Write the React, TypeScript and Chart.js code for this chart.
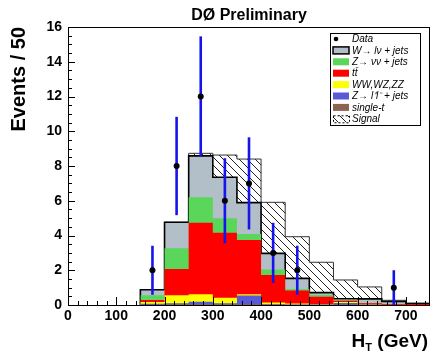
import React, { useEffect, useRef } from 'react';
import { Chart, registerables } from 'chart.js';

Chart.register(...registerables);

// ---------- data ----------
// lower edges of the H_T bins (GeV); bins are 50 GeV wide, last edge 750
const binEdges = [150, 200, 250, 300, 350, 400, 450, 500, 550, 600, 650, 700];
const lastEdge = 750;

// background components (events per bin), stacked bottom -> top
const singleT = [0.02, 0.04, 0.05, 0.04, 0.05, 0.03, 0.02, 0.01, 0.01, 0.01, 0.0, 0.0];
const zll = [0.05, 0.06, 0.14, 0.06, 0.5, 0.02, 0.01, 0.02, 0.11, 0.01, 0.0, 0.0];
const diboson = [0.1, 0.46, 0.43, 0.32, 0.07, 0.1, 0.05, 0.02, 0.05, 0.01, 0.0, 0.0];
const ttbar = [0.12, 1.51, 4.12, 3.74, 3.12, 1.58, 0.75, 0.43, 0.08, 0.07, 0.05, 0.06];
const znunu = [0.27, 1.19, 1.46, 0.83, 0.35, 0.32, 0.09, 0.1, 0.05, 0.02, 0.01, 0.0];
const wjets = [0.32, 1.5, 2.38, 2.36, 1.8, 0.92, 0.61, 0.13, 0.06, 0.23, 0.14, 0.02];
const signal = [0.0, 0.0, 0.15, 1.28, 2.51, 2.94, 2.4, 1.75, 1.08, 0.69, 0.07, 0.02];

// observed data (bin centres), with their errors
const dataX = [175, 225, 275, 325, 375, 425, 475, 675];
const dataY = [2, 8, 12, 6, 7, 3, 2, 1];
const dataErr = [1.41, 2.83, 3.46, 2.45, 2.65, 1.73, 1.41, 1.0];

const xMin = 0;
const xMax = 750;
const yMin = 0;
const yMax = 16;
const xStep = 100;
const yStep = 2;
const xMinorStep = 20;
const yMinorStep = 0.5;

const titleText = 'DØ Preliminary';
const yTitle = 'Events / 50';
const xTitleMain = 'H';
const xTitleSub = 'T';
const xTitleRest = ' (GeV)';

const legendLabels = [
  'Data',
  'W→ lν + jets',
  'Z→ νν + jets',
  'tt̄',
  'WW,WZ,ZZ',
  'Z→ l⁺l⁻ + jets',
  'single-t',
  'Signal',
];

// ---------- styles ----------
const FONT = '"Liberation Sans", Arial, Helvetica, sans-serif';
const colW = 'rgb(178,190,200)';
const colZnn = 'rgb(90,214,90)';
const colTT = 'rgb(255,0,0)';
const colVV = 'rgb(255,255,0)';
const colZll = 'rgb(90,90,216)';
const colST = 'rgb(140,100,80)';
const colErr = 'rgb(20,20,235)';

function makeHatch(): CanvasPattern | string {
  const c = document.createElement('canvas');
  c.width = 8;
  c.height = 8;
  const g = c.getContext('2d');
  if (!g) return '#fff';
  g.fillStyle = '#fff';
  g.fillRect(0, 0, 8, 8);
  g.strokeStyle = '#222';
  g.lineWidth = 1;
  g.beginPath();
  for (const k of [-8, 0, 8]) {
    g.moveTo(k, 0);
    g.lineTo(k + 8, 8);
  }
  g.stroke();
  return g.createPattern(c, 'repeat') || '#fff';
}

function stepPoints(vals: number[]) {
  const pts: { x: number; y: number }[] = [{ x: binEdges[0], y: 0 }];
  vals.forEach((v, i) => pts.push({ x: binEdges[i], y: v }));
  pts.push({ x: lastEdge, y: vals[vals.length - 1] });
  pts.push({ x: lastEdge, y: 0 });
  return pts;
}

export default function App() {
  const ref = useRef<HTMLCanvasElement | null>(null);

  useEffect(() => {
    const canvas = ref.current;
    if (!canvas) return;
    const hatch = makeHatch();

    const components = [singleT, zll, diboson, ttbar, znunu, wjets, signal];
    const cumulative = components.map((_, k) =>
      binEdges.map((__, i) => components.slice(0, k + 1).reduce((s, c) => s + c[i], 0))
    );
    const fills = [colST, colZll, colVV, colTT, colZnn, colW, hatch];
    const borders = ['rgba(0,0,0,0)', 'rgba(0,0,0,0)', 'rgba(0,0,0,0)', 'rgba(0,0,0,0)', 'rgba(0,0,0,0)', '#000', '#333'];
    const widths = [1, 1, 1, 1, 1, 1.6, 1];

    const histDatasets = cumulative.map((vals, k) => ({
      label: legendLabels[k + 1] || 'h' + k,
      data: stepPoints(vals),
      stepped: true as const,
      fill: 'origin' as const,
      backgroundColor: fills[k] as any,
      borderColor: borders[k],
      borderWidth: widths[k],
      pointRadius: 0,
      pointHoverRadius: 0,
      tension: 0,
    }));

    const decor = {
      id: 'decor',
      beforeDatasetDraw(chart: any, args: any) {
        if (args.index !== 0) return;
        const { ctx, scales } = chart;
        const xs = scales.x;
        const ys = scales.y;
        ctx.save();
        ctx.strokeStyle = colErr;
        ctx.lineWidth = 2.6;
        ctx.lineCap = 'butt';
        dataX.forEach((xv, i) => {
          const px = xs.getPixelForValue(xv);
          const lo = Math.max(yMin, dataY[i] - dataErr[i]);
          const hi = dataY[i] + dataErr[i];
          ctx.beginPath();
          ctx.moveTo(px, ys.getPixelForValue(lo));
          ctx.lineTo(px, ys.getPixelForValue(hi));
          ctx.stroke();
        });
        ctx.restore();
      },
      afterDatasetsDraw(chart: any) {
        const { ctx, chartArea: a, scales } = chart;
        const xs = scales.x;
        const ys = scales.y;
        ctx.save();
        ctx.strokeStyle = '#000';
        ctx.lineWidth = 1;
        ctx.beginPath();
        for (let v = xMin; v <= xMax + 1e-6; v += xMinorStep) {
          const px = Math.round(xs.getPixelForValue(v)) + 0.5;
          const len = Math.abs(v % xStep) < 1e-6 ? 8 : 4;
          ctx.moveTo(px, a.bottom);
          ctx.lineTo(px, a.bottom - len);
        }
        for (let v = yMin; v <= yMax + 1e-6; v += yMinorStep) {
          const py = Math.round(ys.getPixelForValue(v)) + 0.5;
          const len = Math.abs(v % yStep) < 1e-6 ? 7 : 4;
          ctx.moveTo(a.left, py);
          ctx.lineTo(a.left + len, py);
        }
        ctx.stroke();
        ctx.lineWidth = 1;
        ctx.strokeRect(Math.round(a.left) + 0.5, Math.round(a.top) + 0.5, Math.round(a.right - a.left) - 1, Math.round(a.bottom - a.top));
        ctx.restore();
      },
      afterDraw(chart: any) {
        const { ctx, chartArea: a } = chart;
        ctx.save();
        // legend box
        const lx = a.right - 100;
        const ly = a.top + 6;
        const lw = 90;
        const lh = 92;
        ctx.fillStyle = '#fff';
        ctx.fillRect(lx, ly, lw, lh);
        ctx.strokeStyle = '#000';
        ctx.lineWidth = 1;
        ctx.strokeRect(lx + 0.5, ly + 0.5, lw, lh);
        const rowH = 11.4;
        const mx = lx + 3;
        const mw = 16;
        const mh = 7;
        const legFill = [null, colW, colZnn, colTT, colVV, colZll, colST, hatch];
        legendLabels.forEach((lab, i) => {
          const cy = ly + 6 + i * rowH;
          if (i === 0) {
            ctx.fillStyle = '#000';
            ctx.beginPath();
            ctx.arc(mx + 3, cy, 2.3, 0, Math.PI * 2);
            ctx.fill();
          } else {
            ctx.fillStyle = legFill[i] as any;
            ctx.fillRect(mx, cy - mh / 2, mw, mh);
            if (i === 1) {
              ctx.strokeStyle = '#000';
              ctx.lineWidth = 1.5;
              ctx.strokeRect(mx, cy - mh / 2, mw, mh);
            }
            if (i === 7) {
              ctx.strokeStyle = '#000';
              ctx.lineWidth = 1;
              ctx.setLineDash([2, 2]);
              ctx.strokeRect(mx + 0.5, cy - mh / 2 + 0.5, mw, mh);
              ctx.setLineDash([]);
            }
          }
          ctx.fillStyle = '#000';
          ctx.font = 'italic 10px ' + FONT;
          ctx.textAlign = 'left';
          ctx.textBaseline = 'middle';
          ctx.fillText(lab, mx + mw + 3, cy + 0.5);
        });
        // x-axis title with subscript
        ctx.fillStyle = '#000';
        ctx.textBaseline = 'alphabetic';
        ctx.textAlign = 'left';
        ctx.font = 'bold 19px ' + FONT;
        const wH = ctx.measureText(xTitleMain).width;
        const wR = ctx.measureText(xTitleRest).width;
        ctx.font = 'bold 11px ' + FONT;
        const wT = ctx.measureText(xTitleSub).width;
        const right = a.right - 2;
        const base = a.bottom + 42;
        const x0 = right - (wH + wT + wR);
        ctx.font = 'bold 19px ' + FONT;
        ctx.fillText(xTitleMain, x0, base);
        ctx.font = 'bold 11px ' + FONT;
        ctx.fillText(xTitleSub, x0 + wH, base + 4);
        ctx.font = 'bold 19px ' + FONT;
        ctx.fillText(xTitleRest, x0 + wH + wT, base);
        ctx.restore();
      },
    };

    const chart = new Chart(canvas, {
      type: 'line',
      data: {
        datasets: [
          {
            label: 'Data',
            data: dataX.map((x, i) => ({ x, y: dataY[i] })),
            showLine: false,
            pointRadius: 3,
            pointHoverRadius: 3,
            pointBackgroundColor: '#000',
            pointBorderColor: '#000',
            pointBorderWidth: 0,
            borderColor: '#000',
            backgroundColor: '#000',
          } as any,
          ...histDatasets,
        ],
      },
      options: {
        responsive: false,
        animation: false,
        events: [],
        layout: { padding: { left: 0, right: 1, top: 0, bottom: 0 } },
        plugins: {
          legend: { display: false },
          tooltip: { enabled: false },
          title: {
            display: true,
            text: titleText,
            fullSize: false,
            color: '#000',
            font: { family: FONT, size: 16, weight: 'bold', lineHeight: 1 },
            padding: { top: 8, bottom: 3 },
          },
        },
        scales: {
          x: {
            type: 'linear',
            min: xMin,
            max: xMax,
            grid: { display: false, drawTicks: false, tickLength: 0 },
            border: { display: false },
            ticks: {
              stepSize: xStep,
              includeBounds: false,
              autoSkip: false,
              color: '#000',
              padding: 3,
              maxRotation: 0,
              font: { family: FONT, size: 14, weight: 'bold' },
            },
            afterBuildTicks: (s: any) => {
              s.ticks = s.ticks.filter((t: any) => Math.abs(t.value % xStep) < 1e-6);
            },
            afterFit: (s: any) => {
              s.height = 51;
            },
          },
          y: {
            type: 'linear',
            min: yMin,
            max: yMax,
            grid: { display: false, drawTicks: false, tickLength: 0 },
            border: { display: false },
            ticks: {
              stepSize: yStep,
              autoSkip: false,
              color: '#000',
              padding: 6,
              font: { family: FONT, size: 14, weight: 'bold' },
            },
            title: {
              display: true,
              text: yTitle,
              align: 'end',
              color: '#000',
              font: { family: FONT, size: 20, weight: 'bold', lineHeight: 1 },
              padding: { top: 9, bottom: 0 },
            },
            afterFit: (s: any) => {
              s.width = 68;
            },
          },
        },
      } as any,
      plugins: [decor],
    });

    return () => chart.destroy();
  }, []);

  return (
    <div style={{ position: 'fixed', left: 0, top: 0, width: 433, height: 356, background: '#fff' }}>
      <canvas ref={ref} width={433} height={356} style={{ display: 'block', width: 433, height: 356 }} />
    </div>
  );
}
